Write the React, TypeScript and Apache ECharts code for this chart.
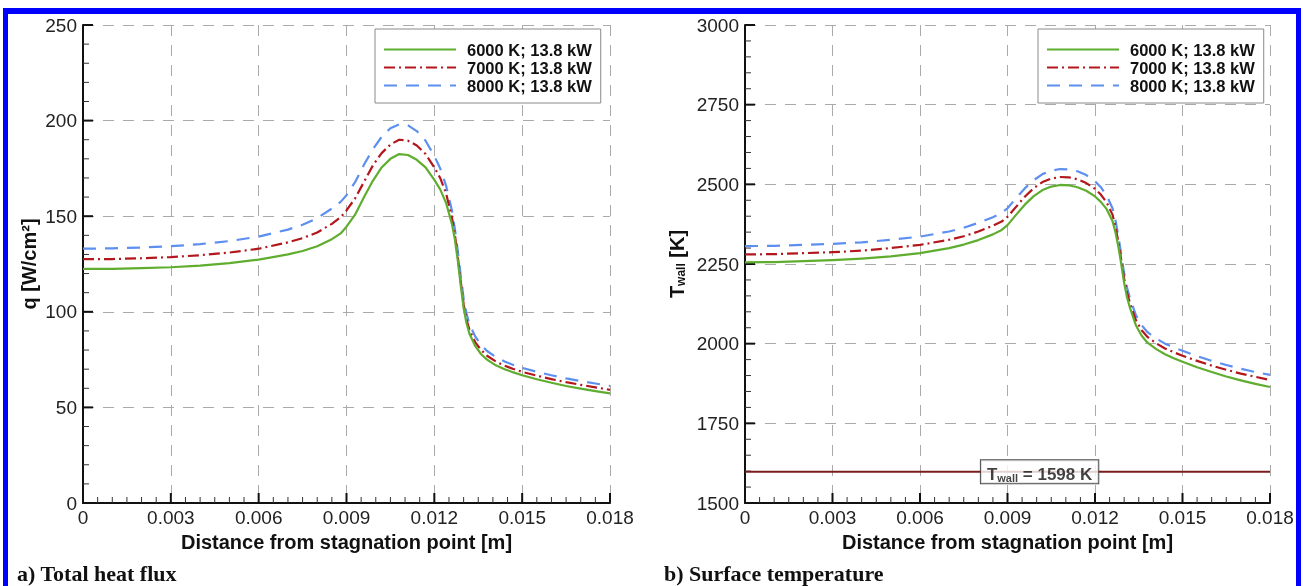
import React, { useEffect, useRef } from "react";
import * as echarts from "echarts";

const X = [0, 0.001, 0.002, 0.003, 0.004, 0.005, 0.006, 0.007, 0.0075, 0.008, 0.0085, 0.0088, 0.009, 0.0093, 0.0096, 0.0099, 0.0102, 0.0105, 0.0108, 0.0111, 0.0114, 0.0117, 0.012, 0.0122, 0.0124, 0.0126, 0.0127, 0.0128, 0.0129, 0.013, 0.0131, 0.0132, 0.0134, 0.0136, 0.0138, 0.0141, 0.0144, 0.0147, 0.015, 0.0155, 0.016, 0.0165, 0.017, 0.0175, 0.018];

const names = ["6000 K; 13.8 kW", "7000 K; 13.8 kW", "8000 K; 13.8 kW"];

const q6000 = [122.4, 122.5, 122.8, 123.3, 124.2, 125.5, 127.3, 130, 131.8, 134.3, 138, 141, 144.5, 151, 160, 168.5, 175.5, 180, 182.5, 182, 179.5, 175.5, 169, 164, 157, 146, 138, 127, 114, 102, 94, 88.5, 82, 77.8, 75, 72, 70, 68.3, 66.8, 64.7, 62.9, 61.2, 59.8, 58.5, 57.3];
const q7000 = [127.5, 127.6, 128, 128.6, 129.6, 131, 133, 136.3, 138.5, 141.5, 146, 149.5, 153, 159.5, 168, 176.5, 183, 187.5, 190, 189.5, 187, 182.5, 175.5, 170, 162, 149.5, 140.5, 129, 116, 104, 96, 90.5, 84, 80, 77, 74, 71.8, 70.1, 68.6, 66.6, 64.8, 63.2, 61.8, 60.5, 59.2];
const q8000 = [133, 133.2, 133.6, 134.3, 135.4, 137, 139.3, 143, 145.5, 149, 154, 157.5, 161, 168, 177, 185, 191.5, 196, 198, 197.5, 194.5, 189.5, 181.5, 175, 166, 153, 143.5, 132, 119, 107, 99, 93.5, 87, 82.7, 79.5, 76.4, 74, 72.2, 70.7, 68.6, 66.8, 65.2, 63.8, 62.5, 61.2];

const t6000 = [2255, 2256, 2259, 2262, 2267, 2274, 2284, 2300, 2311, 2325, 2343, 2357, 2372, 2405, 2437, 2463, 2482, 2493, 2498, 2497, 2491, 2480, 2462, 2445, 2422, 2385, 2350, 2305, 2250, 2190, 2145, 2112, 2058, 2025, 2003, 1983, 1967, 1954, 1943, 1926, 1911, 1897, 1885, 1874, 1864];
const t7000 = [2280, 2281, 2284, 2287, 2292, 2300, 2310, 2326, 2337, 2352, 2370, 2383, 2398, 2430, 2462, 2488, 2507, 2518, 2523, 2522, 2516, 2504, 2486, 2468, 2443, 2405, 2368, 2320, 2263, 2204, 2160, 2127, 2074, 2042, 2021, 2001, 1985, 1973, 1962, 1946, 1931, 1918, 1906, 1896, 1886];
const t8000 = [2306, 2307, 2310, 2313, 2318, 2326, 2336, 2352, 2364, 2379, 2397, 2410, 2425, 2457, 2488, 2513, 2532, 2543, 2548, 2547, 2541, 2529, 2510, 2491, 2465, 2425, 2388, 2338, 2280, 2220, 2175, 2142, 2090, 2058, 2036, 2016, 2000, 1988, 1978, 1961, 1946, 1933, 1921, 1911, 1902];

const TWALL_REF = 1598;
const TWALL_LABEL_X = 0.0101;

// axis settings: [min, max, major interval, minor subdivisions]
const X_AXIS = [0, 0.018, 0.003, 6];
const Q_AXIS = [0, 250, 50, 5];
const T_AXIS = [1500, 3000, 250, 5];

const colors = ["#5fad2f", "#b3161b", "#5c8ff0"];
const dashes: any[] = ["solid", [11, 4, 2, 4], [13, 9]];

const FONT = "Liberation Sans";

// tick positions along an axis: [value, 1 if major else 0]
function tickList(ax: number[]) {
  const [min, max, step, sub] = ax;
  const n = Math.round((max - min) / step) * sub;
  const out: number[][] = [];
  for (let i = 0; i <= n; i++) out.push([min + ((max - min) * i) / n, i % sub === 0 ? 1 : 0]);
  return out;
}

export default function App() {
  const ref = useRef<HTMLDivElement>(null);
  useEffect(() => {
    const chart = echarts.init(ref.current!, undefined, { renderer: "svg" });
    const mk = (vals: number[]) => vals.map((v, i) => [X[i], v]);
    const gridLine = { show: true, lineStyle: { color: "#aaaaaa", width: 1, type: [11, 9] } };
    const range = (ax: number[]) => ({ type: "value", min: ax[0], max: ax[1], interval: ax[2] });
    const xAxisMain = (gi: number) => ({
      ...range(X_AXIS),
      gridIndex: gi,
      name: "Distance from stagnation point [m]",
      nameLocation: "middle",
      nameGap: 29,
      nameTextStyle: { fontFamily: FONT, fontSize: 20, fontWeight: "bold", color: "#111" },
      axisLine: { show: true, lineStyle: { color: "#111", width: 2 } },
      axisTick: { show: false },
      axisLabel: {
        fontFamily: FONT,
        fontSize: 19,
        color: "#222",
        margin: 5,
        formatter: (v: number) => (v === 0 ? "0" : v.toFixed(3)),
      },
      splitLine: gridLine,
    });
    const yAxisMain = (gi: number, ax: number[]) => ({
      ...range(ax),
      gridIndex: gi,
      nameLocation: "middle",
      nameRotate: 90,
      axisLine: { show: true, lineStyle: { color: "#111", width: 2 } },
      axisTick: { show: false },
      axisLabel: { fontFamily: FONT, fontSize: 19, color: "#222", margin: 6, formatter: (v: number) => String(v) },
      splitLine: gridLine,
    });
    const lineSeries = (gi: number, vals: number[], k: number) => ({
      type: "line",
      name: names[k],
      xAxisIndex: gi,
      yAxisIndex: gi,
      data: mk(vals),
      showSymbol: false,
      symbol: "none",
      smooth: false,
      lineStyle: { color: colors[k], width: 2.2, type: dashes[k], join: "round" },
      itemStyle: { color: colors[k] },
      z: 5 - k,
    });
    // inward tick marks (major and minor) placed through the axes' own scales
    const tickSeries = (gi: number, dir: string, yAx: number[]) => ({
      type: "custom",
      xAxisIndex: gi,
      yAxisIndex: gi,
      data: (dir === "x" ? tickList(X_AXIS) : tickList(yAx)).map((t) =>
        dir === "x" ? [t[0], yAx[0], t[1]] : [X_AXIS[0], t[0], t[1]]
      ),
      encode: { x: 0, y: 1 },
      renderItem: (params: any, api: any) => {
        const p = api.coord([api.value(0), api.value(1)]);
        const major = api.value(2) === 1;
        const len = major ? 10 : 6;
        const w = major ? 2 : 1;
        const fill = major ? "#111" : "#333";
        if (dir === "x") {
          return { type: "rect", shape: { x: p[0] - w / 2, y: p[1] - len, width: w, height: len }, style: { fill } };
        }
        return { type: "rect", shape: { x: p[0], y: p[1] - w / 2, width: len, height: w }, style: { fill } };
      },
    });
    const legendBase = (left: number) => ({
      orient: "vertical",
      left,
      top: 29,
      data: names,
      backgroundColor: "#fff",
      borderColor: "#8a8a8a",
      borderWidth: 1,
      borderRadius: 0,
      padding: [12, 9, 9, 8],
      itemGap: 1,
      itemWidth: 72,
      itemHeight: 15,
      selectedMode: false,
      itemStyle: { opacity: 0 },
      textStyle: { fontFamily: FONT, fontSize: 16.5, fontWeight: "bold", color: "#111", padding: [0, 0, 0, 6] },
    });
    chart.setOption({
      animation: false,
      grid: [
        { left: 83, top: 25, width: 527, height: 478, containLabel: false },
        { left: 745, top: 25, width: 525, height: 478, containLabel: false },
      ],
      legend: [legendBase(375), legendBase(1038)],
      xAxis: [xAxisMain(0), xAxisMain(1)],
      yAxis: [
        {
          ...yAxisMain(0, Q_AXIS),
          name: "q [W/cm²]",
          nameGap: 44,
          nameTextStyle: { fontFamily: FONT, fontSize: 20, fontWeight: "bold", color: "#111" },
        },
        {
          ...yAxisMain(1, T_AXIS),
          name: "{t|T}{s|wall}{t| [K]}",
          nameGap: 58,
          nameTextStyle: {
            fontFamily: FONT,
            color: "#111",
            rich: {
              t: { fontFamily: FONT, fontSize: 20, fontWeight: "bold", color: "#111", lineHeight: 24, verticalAlign: "bottom" },
              s: { fontFamily: FONT, fontSize: 12, fontWeight: "bold", color: "#111", lineHeight: 24, verticalAlign: "bottom", padding: [7, 0, 0, 0] },
            },
          },
        },
      ],
      series: [
        tickSeries(0, "x", Q_AXIS),
        tickSeries(0, "y", Q_AXIS),
        tickSeries(1, "x", T_AXIS),
        tickSeries(1, "y", T_AXIS),
        lineSeries(0, q6000, 0),
        lineSeries(0, q7000, 1),
        lineSeries(0, q8000, 2),
        lineSeries(1, t6000, 0),
        lineSeries(1, t7000, 1),
        lineSeries(1, t8000, 2),
        {
          type: "line",
          name: "Twall ref",
          xAxisIndex: 1,
          yAxisIndex: 1,
          data: [[X_AXIS[0], TWALL_REF], [X_AXIS[1], TWALL_REF]],
          showSymbol: false,
          symbol: "none",
          lineStyle: { color: "#7a1c1c", width: 2 },
          z: 3,
        },
        {
          type: "scatter",
          name: "Twall label",
          xAxisIndex: 1,
          yAxisIndex: 1,
          data: [[TWALL_LABEL_X, TWALL_REF]],
          symbolSize: 1,
          itemStyle: { color: "rgba(0,0,0,0)" },
          z: 10,
          label: {
            show: true,
            position: "inside",
            formatter: () => "{b|T}{s|wall}{b| = 1598 K}",
            backgroundColor: "#fff",
            borderColor: "#222",
            borderWidth: 1,
            padding: [1, 6, 0, 6],
            rich: {
              b: { fontFamily: FONT, fontSize: 17, fontWeight: "bold", color: "#111", lineHeight: 22, verticalAlign: "bottom" },
              s: { fontFamily: FONT, fontSize: 11, fontWeight: "bold", color: "#111", lineHeight: 22, verticalAlign: "bottom", padding: [7, 0, 0, 0] },
            },
          },
          silent: true,
        },
      ],
      graphic: [
        { type: "rect", shape: { x: 3, y: 8, width: 5, height: 600 }, style: { fill: "#0000ff" }, z: 100 },
        { type: "rect", shape: { x: 1296, y: 8, width: 5, height: 600 }, style: { fill: "#0000ff" }, z: 100 },
        { type: "rect", shape: { x: 3, y: 8, width: 1298, height: 6 }, style: { fill: "#0000ff" }, z: 100 },
        {
          type: "text",
          left: 17,
          top: 562,
          style: { text: "a) Total heat flux", font: "bold 22px 'Liberation Serif'", fill: "#111" },
        },
        {
          type: "text",
          left: 664,
          top: 562,
          style: { text: "b) Surface temperature", font: "bold 22px 'Liberation Serif'", fill: "#111" },
        },
      ],
    });
    return () => chart.dispose();
  }, []);
  return <div ref={ref} style={{ position: "fixed", left: 0, top: 0, width: 1303, height: 586 }} />;
}
